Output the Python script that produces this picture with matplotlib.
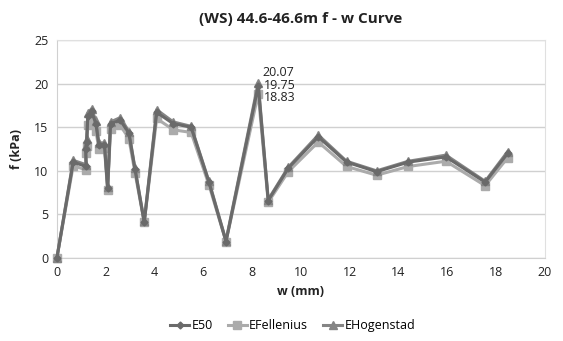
import matplotlib
matplotlib.use("Agg")
import matplotlib.pyplot as plt

w = [0, 0.67, 1.2, 1.18, 1.22, 1.27, 1.42, 1.6, 1.72, 1.95, 2.08, 2.2, 2.6, 2.95, 3.2,
     3.58, 4.09, 4.77, 5.5, 6.23, 6.93, 8.25, 8.66, 9.48, 10.71, 11.87, 13.1, 14.4,
     15.94, 17.55, 18.47]
f_e50 = [0, 11.0, 10.5, 12.5, 13.3, 16.3, 16.8, 15.4, 13.0, 13.0, 8.0, 15.4, 15.8, 14.3, 10.2,
         4.1, 16.7, 15.4, 15.0, 8.7, 1.9, 19.75, 6.6, 10.3, 13.9, 11.0, 9.9, 11.0,
         11.6, 8.7, 12.0]
f_fell = [0, 10.6, 10.1, 12.0, 12.8, 15.3, 15.8, 14.6, 12.5, 12.6, 7.8, 14.8, 15.2, 13.7, 9.8,
          4.1, 16.0, 14.7, 14.4, 8.4, 1.9, 18.83, 6.4, 9.9, 13.3, 10.5, 9.5, 10.5,
          11.1, 8.3, 11.5]
f_hog = [0, 11.2, 10.7, 12.8, 13.6, 16.6, 17.1, 15.7, 13.2, 13.2, 8.1, 15.6, 16.1, 14.5, 10.3,
         4.2, 17.0, 15.6, 15.1, 8.8, 2.0, 20.07, 6.7, 10.4, 14.1, 11.1, 10.0, 11.1,
         11.8, 8.8, 12.2]
series_names = ["E50", "EFellenius", "EHogenstad"]
peak_labels = ["20.07", "19.75", "18.83"]

plt.rcParams['font.family'] = ['Open Sans', 'DejaVu Sans']

fig = plt.figure(figsize=(5.63, 3.41), dpi=100)
ax = fig.add_axes([0.101, 0.243, 0.867, 0.640])

ax.plot(w, f_fell, color='#ababab', lw=2.2, marker='s', ms=5.5, label=series_names[1], zorder=3, clip_on=False)
ax.plot(w, f_hog, color='#858585', lw=2.2, marker='^', ms=5.5, label=series_names[2], zorder=4, clip_on=False)
ax.plot(w, f_e50, color='#6a6a6a', lw=2.2, marker='D', ms=3.5, label=series_names[0], zorder=5, clip_on=False)

ipk = f_e50.index(max(f_e50))
xp = w[ipk]
offs = [(4, 13), (6, 0), (6, -12)]
for lab, (dx, dy) in zip(peak_labels, offs):
    ax.annotate(lab, (xp, f_e50[ipk]), xytext=(dx, dy), textcoords='offset pixels',
                ha='left', va='center', fontsize=9, color='#222222')

ax.set_xlim(0, 20)
ax.set_ylim(0, 25)
ax.set_xticks(range(0, 21, 2))
ax.set_yticks(range(0, 26, 5))
ax.grid(axis='y', color='#d0d0d0', lw=1)
ax.set_axisbelow(True)
for s in ['top', 'right']:
    ax.spines[s].set_color('#e0e0e0')
ax.spines['left'].set_color('#d0d0d0')
ax.spines['bottom'].set_color('#d0d0d0')
ax.tick_params(length=0, labelsize=9, colors='#222222', pad=6)

ax.set_title("(WS) 44.6-46.6m f - w Curve", fontsize=11, fontweight='bold', pad=12, color='#222222')
ax.set_xlabel("w (mm)", fontsize=9, fontweight='bold', labelpad=4, color='#222222')
ax.set_ylabel("f (kPa)", fontsize=9, fontweight='bold', labelpad=8, color='#222222')

h, l = ax.get_legend_handles_labels()
order = [2, 0, 1]
fig.legend([h[i] for i in order], [l[i] for i in order], loc='center', bbox_to_anchor=(0.52, 0.045),
           ncol=3, frameon=False, fontsize=9, handlelength=1.5, handletextpad=0.2, columnspacing=1.2)

fig.savefig("out.png", dpi=100)
